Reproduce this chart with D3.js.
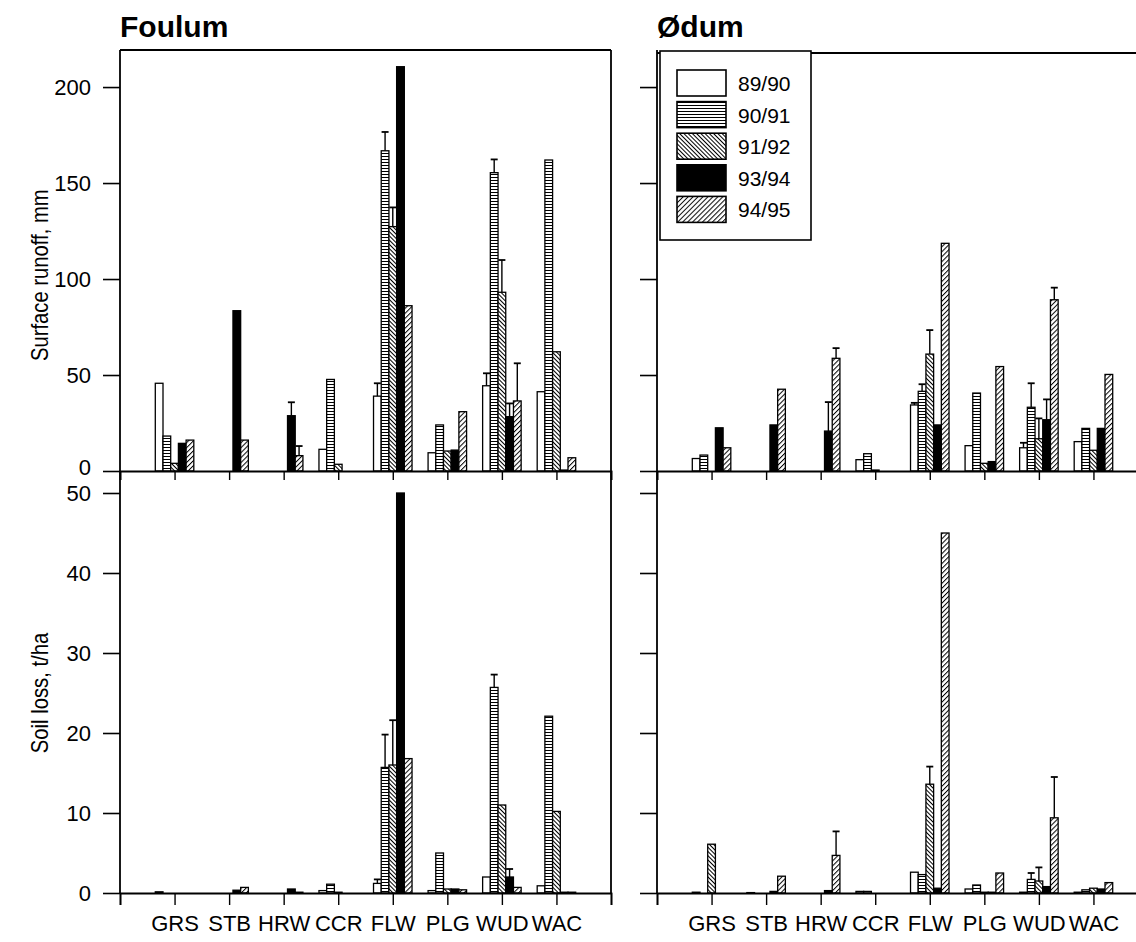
<!doctype html>
<html>
<head>
<meta charset="UTF-8">
<title>Surface runoff and soil loss</title>
<style>
  body { margin: 0; background: #fff; }
  svg text { font-family: "Liberation Sans", Arial, sans-serif; fill: #000; }
  .title { font-size: 30px; font-weight: bold; }
  .ylab { font-size: 23px; }
  .tick text { font-size: 22px; }
  .xlab { font-size: 15px; }
  .legtext { font-size: 21px; }
</style>
<script src="https://d3js.org/d3.v7.min.js"></script>
</head>
<body>
<svg id="chart" width="1136" height="942"></svg>
<script>
// crops on the x axis and the seasons in each group
var crops = ["GRS", "STB", "HRW", "CCR", "FLW", "PLG", "WUD", "WAC"];
var seasons = ["89/90", "90/91", "91/92", "93/94", "94/95"];

// surface runoff, mm  (one row per crop, one column per season)
var runoffFoulum = [
  [45.7, 18.2, 4, 14.4, 16.1],
  [null, null, null, 83.5, 16.1],
  [null, null, null, 28.8, 8],
  [11.3, 47.7, 3.5, null, null],
  [39, 166.8, 127.3, 210.6, 86.1],
  [9.5, 24, 10.4, 10.9, 30.9],
  [44.4, 155.4, 93.1, 28.3, 36.5],
  [41.3, 162, 62.1, 0.5, 6.9]
];
var runoffFoulumErr = [
  [null, null, null, null, null],
  [null, null, null, null, null],
  [null, null, null, 35.8, 13],
  [null, null, null, null, null],
  [45.7, 176.6, 137.3, null, null],
  [null, null, null, null, null],
  [50.9, 162.3, 109.9, 35.2, 56.1],
  [null, null, null, null, null]
];
var runoffOdum = [
  [6.5, 8.3, null, 22.5, 12.1],
  [null, null, null, 24, 42.6],
  [null, null, null, 20.8, 58.7],
  [5.9, 9, 0.5, null, null],
  [34.4, 41.5, 60.9, 24, 118.6],
  [13.2, 40.6, 4, 4.9, 54.4],
  [12.1, 33.2, 16.8, 26.7, 89.2],
  [15.3, 22.2, 10.8, 22.2, 50.3]
];
var runoffOdumErr = [
  [null, null, null, null, null],
  [null, null, null, null, null],
  [null, null, null, 35.9, 64],
  [null, null, null, null, null],
  [35.5, 45.2, 73.4, null, null],
  [null, null, null, null, null],
  [14.7, 45.7, 27.4, 37.3, 95.5],
  [null, null, null, null, null]
];

// soil loss, t/ha
var soilFoulum = [
  [0.15, null, null, null, null],
  [null, null, null, 0.35, 0.7],
  [null, null, null, 0.5, 0.1],
  [0.3, 1.1, 0.1, null, null],
  [1.2, 15.7, 16, 50, 16.8],
  [0.3, 5, 0.5, 0.5, 0.4],
  [2, 25.7, 11, 2, 0.7],
  [0.9, 22.1, 10.2, 0.1, 0.1]
];
var soilFoulumErr = [
  [null, null, null, null, null],
  [null, null, null, null, null],
  [null, null, null, null, null],
  [null, null, null, null, null],
  [1.7, 19.8, 21.6, null, null],
  [null, null, null, null, null],
  [null, 27.3, null, 3, null],
  [null, null, null, null, null]
];
var soilOdum = [
  [0.1, null, 6.1, null, null],
  [0.05, null, null, 0.2, 2.1],
  [null, null, null, 0.3, 4.7],
  [0.2, 0.2, null, null, null],
  [2.6, 2.3, 13.6, 0.6, 45],
  [0.5, 1, 0.1, 0.1, 2.5],
  [0.1, 1.7, 1.5, 0.8, 9.4],
  [0.1, 0.4, 0.6, 0.5, 1.3]
];
var soilOdumErr = [
  [null, null, null, null, null],
  [null, null, null, null, null],
  [null, null, null, null, 7.7],
  [null, null, null, null, null],
  [null, null, 15.8, null, null],
  [null, null, null, null, null],
  [null, 2.5, 3.2, null, 14.5],
  [null, null, null, null, null]
];

var yTicksRunoff = [0, 50, 100, 150, 200];
var yTicksSoil = [0, 10, 20, 30, 40, 50];

var svg = d3.select("#chart");

// fill patterns, one per season
var defs = svg.append("defs");
var p = defs.append("pattern").attr("id", "hl").attr("patternUnits", "userSpaceOnUse")
  .attr("width", 4).attr("height", 3);
p.append("rect").attr("width", 4).attr("height", 3).attr("fill", "#fff");
p.append("line").attr("x1", 0).attr("x2", 4).attr("y1", 0.5).attr("y2", 0.5)
  .attr("stroke", "#000").attr("stroke-width", 1);

// 91/92: lines falling to the right
p = defs.append("pattern").attr("id", "dd").attr("patternUnits", "userSpaceOnUse")
  .attr("width", 3).attr("height", 3).attr("patternTransform", "rotate(-45)");
p.append("rect").attr("width", 3).attr("height", 3).attr("fill", "#fff");
p.append("line").attr("x1", 0.5).attr("x2", 0.5).attr("y1", 0).attr("y2", 3)
  .attr("stroke", "#000").attr("stroke-width", 1);

// 94/95: lines rising to the right
p = defs.append("pattern").attr("id", "du").attr("patternUnits", "userSpaceOnUse")
  .attr("width", 3.5).attr("height", 3.5).attr("patternTransform", "rotate(45)");
p.append("rect").attr("width", 3.5).attr("height", 3.5).attr("fill", "#fff");
p.append("line").attr("x1", 0.5).attr("x2", 0.5).attr("y1", 0).attr("y2", 3.5)
  .attr("stroke", "#000").attr("stroke-width", 1);

var fills = {"89/90": "#fff", "90/91": "url(#hl)", "91/92": "url(#dd)", "93/94": "#000", "94/95": "url(#du)"};

// vertical scales, shared by both sites
var yRun = d3.scaleLinear().domain([0, 219.3]).range([471, 50]);
var ySoil = d3.scaleLinear().domain([0, 52.75]).range([893, 471]);

function drawPanel(x, y, values, errs, ticks, bottom, showLabels) {
  var step = x(1) - x(0);
  var band = d3.scaleBand().domain(seasons).range([-0.353 * step, 0.353 * step]);

  var g = svg.append("g");
  crops.forEach(function(c, i) {
    seasons.forEach(function(s, j) {
      var v = values[i][j];
      if (v == null) return;
      g.append("rect")
        .attr("x", x(i + 1) + band(s))
        .attr("y", y(v))
        .attr("width", band.bandwidth())
        .attr("height", y(0) - y(v))
        .attr("fill", fills[s])
        .attr("stroke", "#000")
        .attr("stroke-width", 1.3);
      var e = errs[i][j];
      if (e != null) {
        var cx = x(i + 1) + band(s) + band.bandwidth() / 2;
        g.append("line").attr("x1", cx).attr("x2", cx).attr("y1", y(v)).attr("y2", y(e))
          .attr("stroke", "#000").attr("stroke-width", 1.4);
        g.append("line").attr("x1", cx - 3.5).attr("x2", cx + 3.5).attr("y1", y(e)).attr("y2", y(e))
          .attr("stroke", "#000").attr("stroke-width", 1.8);
      }
    });
  });

  // left axis
  var ax = d3.axisLeft(y).tickValues(ticks).tickSize(17).tickPadding(12);
  if (!showLabels) ax.tickFormat("");
  var ga = svg.append("g").attr("transform", "translate(" + x(0) + ",0)").call(ax);
  ga.select(".domain").remove();
  ga.selectAll("line").attr("stroke-width", 1.6);
  // keep the upper "0" clear of the lower "50"
  if (!bottom) ga.selectAll(".tick text").filter(function(d) { return d === 0; }).attr("y", -4);
  svg.append("line").attr("x1", x(0)).attr("x2", x(0)).attr("y1", y.range()[0]).attr("y2", y.range()[1])
    .attr("stroke", "#000").attr("stroke-width", 1.8);

  // bottom axis with crop labels
  var xb = d3.axisBottom(x).tickValues(d3.range(0, 10)).tickSize(bottom ? 12 : 9)
    .tickFormat(function(d) { return (bottom && d >= 1 && d <= 8) ? crops[d - 1] : ""; })
    .tickPadding(10);
  var gb = svg.append("g").attr("transform", "translate(0," + y(0) + ")").call(xb);
  gb.select(".domain").attr("stroke-width", 1.8);
  gb.selectAll("line").attr("stroke-width", 1.4);
  gb.selectAll("text").attr("class", "xlab");
}

// Foulum
var xF = d3.scaleLinear().domain([0, 9]).range([120, 611]);
drawPanel(xF, yRun, runoffFoulum, runoffFoulumErr, yTicksRunoff, false, true);
drawPanel(xF, ySoil, soilFoulum, soilFoulumErr, yTicksSoil, true, true);
svg.append("line").attr("x1", xF(0)).attr("x2", xF(9)).attr("y1", yRun.range()[1]).attr("y2", yRun.range()[1])
  .attr("stroke", "#000").attr("stroke-width", 1.8);
svg.append("line").attr("x1", xF(9)).attr("x2", xF(9)).attr("y1", yRun.range()[1]).attr("y2", ySoil.range()[0])
  .attr("stroke", "#000").attr("stroke-width", 1.8);

// Ødum (its right edge runs off the page)
var xO = d3.scaleLinear().domain([0, 9]).range([657, 1148]);
drawPanel(xO, yRun, runoffOdum, runoffOdumErr, yTicksRunoff, false, false);
drawPanel(xO, ySoil, soilOdum, soilOdumErr, yTicksSoil, true, false);
svg.append("line").attr("x1", xO(0)).attr("x2", xO(9)).attr("y1", yRun.range()[1] + 3).attr("y2", yRun.range()[1] + 3)
  .attr("stroke", "#000").attr("stroke-width", 1.8);

// titles
svg.append("text").attr("class", "title").attr("x", 120).attr("y", 37).text("Foulum");
svg.append("text").attr("class", "title").attr("x", 657).attr("y", 37).text("Ødum");

// axis titles, narrowed to look like the condensed face of the original
svg.append("text").attr("class", "ylab").attr("text-anchor", "middle")
  .attr("transform", "translate(48," + yRun(102) + ") rotate(-90) scale(0.88,1)").text("Surface runoff, mm");
svg.append("text").attr("class", "ylab").attr("text-anchor", "middle")
  .attr("transform", "translate(48," + ySoil(25) + ") rotate(-90) scale(0.88,1)").text("Soil loss, t/ha");

// legend
var leg = svg.append("g").attr("transform", "translate(660,51)");
leg.append("rect").attr("width", 151).attr("height", 189).attr("fill", "#fff")
  .attr("stroke", "#000").attr("stroke-width", 1.6);
seasons.forEach(function(s, i) {
  leg.append("rect").attr("x", 17).attr("y", 19 + i * 31.6).attr("width", 49).attr("height", 26)
    .attr("fill", fills[s]).attr("stroke", "#000").attr("stroke-width", 1.6);
  leg.append("text").attr("class", "legtext").attr("x", 78).attr("y", 40 + i * 31.6).text(s);
});
</script>
</body>
</html>
